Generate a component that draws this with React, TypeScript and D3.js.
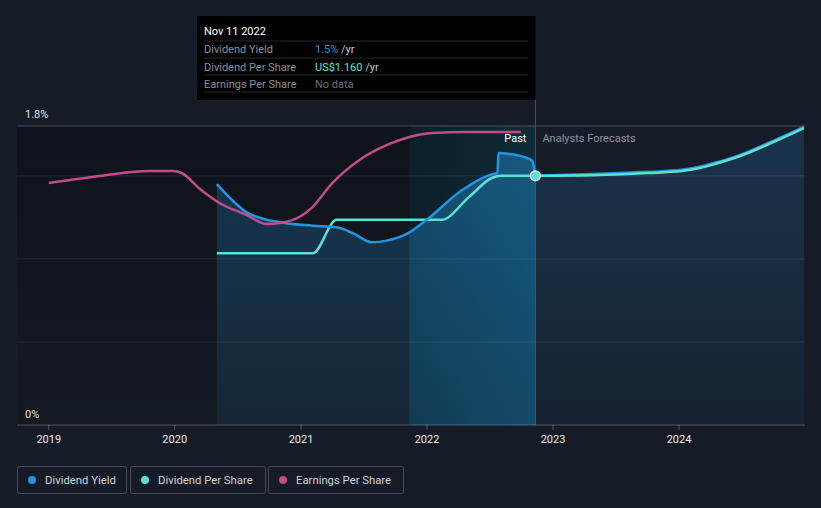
import React from "react";
import * as d3 from "d3";

const parse = d3.timeParse("%Y-%m-%d");

// Dividend Yield (%) — past
const yieldPastDates = ["2020-05-02","2020-07-28","2020-10-31","2021-02-04","2021-04-14","2021-05-31","2021-07-25","2021-09-06","2021-11-03","2021-12-30","2022-04-13","2022-07-09","2022-07-24","2022-07-27","2022-08-28","2022-10-16","2022-11-02","2022-11-11"];
const yieldPastValues = [1.45,1.28,1.22,1.20,1.19,1.155,1.10,1.11,1.15,1.234,1.415,1.51,1.516,1.638,1.632,1.608,1.589,1.50];
// Dividend Yield (%) — forecast
const yieldFcDates = ["2022-11-11","2023-05-15","2023-10-05","2024-01-09","2024-02-27","2024-04-16","2024-06-24","2024-09-16","2024-12-28"];
const yieldFcValues = [1.50,1.512,1.524,1.536,1.553,1.58,1.625,1.698,1.795];

// Dividend Per Share (US$)
const dpsPastDates = ["2020-05-02","2021-02-04","2021-04-14","2022-02-11","2022-05-03","2022-07-09","2022-08-03","2022-11-11"];
const dpsPastValues = [0.80,0.80,0.955,0.955,1.062,1.151,1.16,1.16];
const dpsFcDates = ["2022-11-11","2023-05-15","2023-10-05","2024-01-09","2024-02-27","2024-04-16","2024-06-24","2024-09-16","2024-12-28"];
const dpsFcValues = [1.16,1.164,1.173,1.182,1.195,1.216,1.251,1.307,1.382];

// Earnings Per Share (indexed to chart scale)
const epsDates = ["2019-01-01","2019-05-29","2019-10-20","2019-12-26","2020-01-21","2020-03-14","2020-05-11","2020-07-28","2020-09-23","2020-10-31","2020-12-27","2021-02-03","2021-04-02","2021-06-19","2021-09-14","2021-11-11","2022-01-16","2022-04-24","2022-09-30"];
const epsValues = [1.457,1.499,1.529,1.529,1.517,1.421,1.335,1.264,1.21,1.216,1.252,1.312,1.457,1.595,1.692,1.734,1.758,1.764,1.764];

const yearTicks = ["2019","2020","2021","2022","2023","2024"];
const gridValues = [0.5, 1.0, 1.5];
const yLabels = ["0%", "1.8%"];
const legendItems = ["Dividend Yield", "Dividend Per Share", "Earnings Per Share"];
const tooltipDate = "Nov 11 2022";
const tooltipRows = [
  { label: "Dividend Yield", value: "1.5%", unit: " /yr" },
  { label: "Dividend Per Share", value: "US$1.160", unit: " /yr" },
  { label: "Earnings Per Share", value: "No data", unit: "" },
];
const nowDate = "2022-11-11";
const bandStart = "2021-11-11";

const BG = "#161c27";
const BLUE = "#2394df";
const TEAL = "#5de0d2";
const MAG = "#c44c8c";
const FONT = "Roboto, 'Open Sans', sans-serif";

export default function App() {
  const W = 821, H = 508;
  const x = d3.scaleTime().domain([new Date(2018, 9, 1), new Date(2024, 11, 31)]).range([17, 805]);
  const y = d3.scaleLinear().domain([0, 1.8]).range([425, 126]);
  const yDps = d3.scaleLinear().domain([0, 1.16 * 1.8 / 1.5]).range([425, 126]);

  const mk = (ds: string[], vs: number[]) => ds.map((d, i) => ({ d: parse(d) as Date, v: vs[i] }));
  const yPast = mk(yieldPastDates, yieldPastValues);
  const yFc = mk(yieldFcDates, yieldFcValues);
  const dPast = mk(dpsPastDates, dpsPastValues);
  const dFc = mk(dpsFcDates, dpsFcValues);
  const eps = mk(epsDates, epsValues);

  const lineY = d3.line<any>().x(p => x(p.d)).y(p => y(p.v)).curve(d3.curveMonotoneX);
  const lineD = d3.line<any>().x(p => x(p.d)).y(p => yDps(p.v)).curve(d3.curveMonotoneX);
  const areaY = d3.area<any>().x(p => x(p.d)).y0(y(0)).y1(p => y(p.v)).curve(d3.curveMonotoneX);

  const xNow = x(parse(nowDate) as Date);
  const xBand = x(parse(bandStart) as Date);
  const x0 = x.range()[0], x1 = x.range()[1];
  const yTop = y(1.8), yBot = y(0);

  const legendBoxes = [
    { x: 17, w: 109, color: BLUE },
    { x: 130, w: 135, color: TEAL },
    { x: 268, w: 135, color: MAG },
  ];

  return (
    <div style={{ position: "fixed", left: 0, top: 0, width: W, height: H, background: BG }}>
      <svg width={W} height={H} style={{ display: "block", fontFamily: FONT }}>
        <defs>
          <linearGradient id="pastBg" x1="0" y1="0" x2="0" y2="1">
            <stop offset="0" stopColor="#0f131a" />
            <stop offset="1" stopColor="#141a22" />
          </linearGradient>
          <linearGradient id="band" x1="0" y1="0" x2="1" y2="0">
            <stop offset="0" stopColor="#0c1f27" />
            <stop offset="1" stopColor="#0d2c38" />
          </linearGradient>
          <linearGradient id="pastArea" x1="0" y1="0" x2="0" y2="1">
            <stop offset="0" stopColor={BLUE} stopOpacity={0.28} />
            <stop offset="1" stopColor={BLUE} stopOpacity={0.1} />
          </linearGradient>
          <linearGradient id="bandArea" x1="0" y1="0" x2="1" y2="0">
            <stop offset="0" stopColor={BLUE} stopOpacity={0.08} />
            <stop offset="1" stopColor={BLUE} stopOpacity={0.2} />
          </linearGradient>
          <linearGradient id="fcArea" x1="0" y1="0" x2="0" y2="1">
            <stop offset="0" stopColor={BLUE} stopOpacity={0.2} />
            <stop offset="1" stopColor={BLUE} stopOpacity={0.05} />
          </linearGradient>
          <clipPath id="bandClip">
            <rect x={xBand} y={yTop} width={xNow - xBand} height={yBot - yTop} />
          </clipPath>
        </defs>
        <rect x={0} y={0} width={W} height={H} fill={BG} />
        {/* past background */}
        <rect x={x0} y={yTop} width={xNow - x0} height={yBot - yTop} fill="url(#pastBg)" />
        <rect x={xBand} y={yTop} width={xNow - xBand} height={yBot - yTop} fill="url(#band)" />
        {/* areas */}
        <path d={areaY(yPast) || ""} fill="url(#pastArea)" />
        <path d={areaY(yPast) || ""} fill="url(#bandArea)" clipPath="url(#bandClip)" />
        <path d={areaY(yFc) || ""} fill="url(#fcArea)" />
        {/* grid */}
        {gridValues.map(g => (
          <line key={g} x1={x0} x2={x1} y1={y(g)} y2={y(g)} stroke="#ffffff" strokeOpacity={0.09} />
        ))}
        <line x1={x0} x2={x1} y1={yTop} y2={yTop} stroke="#ffffff" strokeOpacity={0.22} />
        {/* now line */}
        <line x1={xNow} x2={xNow} y1={100} y2={yBot} stroke="#2a6f80" strokeOpacity={0.8} />
        {/* axis */}
        <line x1={x0} x2={x1} y1={yBot} y2={yBot} stroke="#ffffff" strokeOpacity={0.25} />
        {yearTicks.map(t => {
          const xx = x(parse(t + "-01-01") as Date);
          return (
            <g key={t}>
              <line x1={xx} x2={xx} y1={yBot} y2={yBot + 5} stroke="#ffffff" strokeOpacity={0.25} />
              <text x={xx} y={443} fill="#e8e8e8" fontSize={11} textAnchor="middle">{t}</text>
            </g>
          );
        })}
        <text x={25} y={118} fill="#e0e0e0" fontSize={11}>{yLabels[1]}</text>
        <text x={25} y={418} fill="#e0e0e0" fontSize={11}>{yLabels[0]}</text>
        {/* lines */}
        <path d={lineD(dPast) || ""} fill="none" stroke={TEAL} strokeWidth={2.5} />
        <path d={lineY(yPast) || ""} fill="none" stroke={BLUE} strokeWidth={2.5} />
        <path d={lineY(yFc) || ""} fill="none" stroke={BLUE} strokeWidth={2.5} />
        <path d={lineD(dFc) || ""} fill="none" stroke={TEAL} strokeWidth={2.5} />
        <path d={lineY(eps) || ""} fill="none" stroke={MAG} strokeWidth={2.5} />
        <circle cx={xNow} cy={y(1.5)} r={5} fill={TEAL} stroke="#e6f7f5" strokeWidth={1.2} />
        {/* labels */}
        <text x={xNow - 9} y={142} fill="#ffffff" fontSize={11} textAnchor="end">Past</text>
        <text x={xNow + 7} y={142} fill="#8d939c" fontSize={11}>Analysts Forecasts</text>
        {/* tooltip */}
        <rect x={197} y={16} width={xNow - 197} height={84} fill="#000000" />
        <text x={204} y={35} fill="#ffffff" fontSize={11}>{tooltipDate}</text>
        {[41, 58, 75, 92].map(ly => (
          <line key={ly} x1={204} x2={528} y1={ly} y2={ly} stroke="#ffffff" strokeOpacity={0.16} />
        ))}
        {tooltipRows.map((r, i) => (
          <g key={r.label}>
            <text x={204} y={53 + i * 17.5} fill="#8a8f97" fontSize={11}>{r.label}</text>
            <text x={315} y={53 + i * 17.5} fontSize={11}>
              <tspan fill={i === 0 ? BLUE : i === 1 ? TEAL : "#6a6f77"}>{r.value}</tspan>
              <tspan fill="#c8c8c8">{r.unit}</tspan>
            </text>
          </g>
        ))}
        {/* legend */}
        {legendItems.map((name, i) => {
          const b = legendBoxes[i];
          return (
            <g key={name}>
              <rect x={b.x + 0.5} y={466.5} width={b.w} height={27} rx={2} fill="none" stroke="#ffffff" strokeOpacity={0.2} />
              <circle cx={b.x + 15} cy={480} r={4} fill={b.color} />
              <text x={b.x + 28} y={484} fill="#d0d3d8" fontSize={11.3}>{name}</text>
            </g>
          );
        })}
      </svg>
    </div>
  );
}
